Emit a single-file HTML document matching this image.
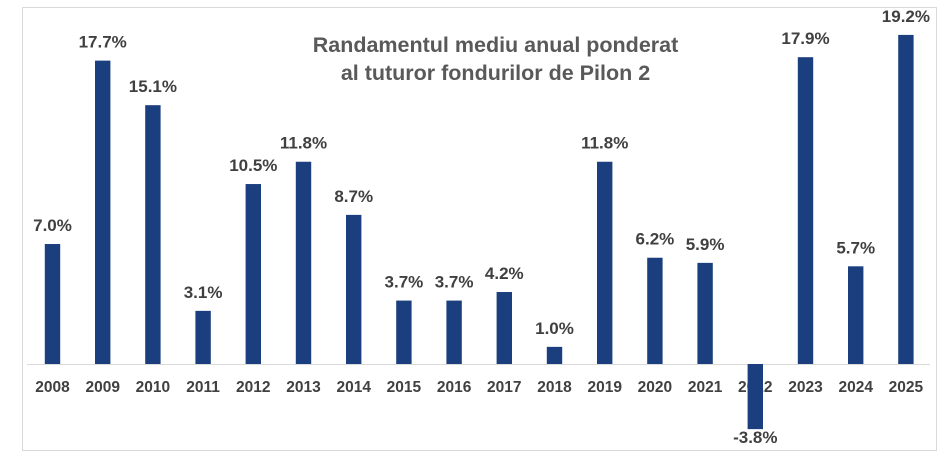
<!DOCTYPE html>
<html><head><meta charset="utf-8"><style>
body{margin:0;background:#fff;}
svg{display:block;font-family:"Liberation Sans",Arial,sans-serif;}
</style></head><body>
<svg width="946" height="458" viewBox="0 0 946 458">
<rect x="0" y="0" width="946" height="458" fill="#fff"/>
<rect x="22.5" y="7.5" width="914" height="443" fill="#fff" stroke="#d9d9d9" stroke-width="1"/>
<text x="495.5" y="52" text-anchor="middle" font-size="21.5" font-weight="bold" fill="#595959">Randamentul mediu anual ponderat</text>
<text x="495.5" y="80" text-anchor="middle" font-size="21.5" font-weight="bold" fill="#595959">al tuturor fondurilor de Pilon 2</text>
<line x1="27" y1="364.5" x2="930" y2="364.5" stroke="#d9d9d9" stroke-width="1"/>
<g id="c"></g>
</svg>
<script>
var v=[7.0,17.7,15.1,3.1,10.5,11.8,8.7,3.7,3.7,4.2,1.0,11.8,6.2,5.9,-3.8,17.9,5.7,19.2];
var g=document.getElementById('c'),ns='http://www.w3.org/2000/svg',s=17.14,b=364;
function el(t,a,txt){var e=document.createElementNS(ns,t);for(var k in a)e.setAttribute(k,a[k]);if(txt)e.textContent=txt;g.appendChild(e);return e;}
v.forEach(function(x,i){
 var cx=52.5+i*50.2;
 el('text',{x:cx,y:392,'text-anchor':'middle','font-size':15.5,'font-weight':'bold',fill:'#404040'},String(2008+i));
 var top=b-x*s;
 if(x>=0){
  el('text',{x:cx,y:top-13,'text-anchor':'middle','font-size':17,'font-weight':'bold',fill:'#404040'},x.toFixed(1)+'%');
  el('rect',{x:cx-7.7,y:top,width:15.4,height:b-top,fill:'#1b3f7e'});
 }else{
  el('rect',{x:cx-7.7,y:b,width:15.4,height:top-b,fill:'#1b3f7e'});
  el('text',{x:cx,y:top+14,'text-anchor':'middle','font-size':17,'font-weight':'bold',fill:'#404040'},x.toFixed(1)+'%');
 }
});
</script>
</body></html>
